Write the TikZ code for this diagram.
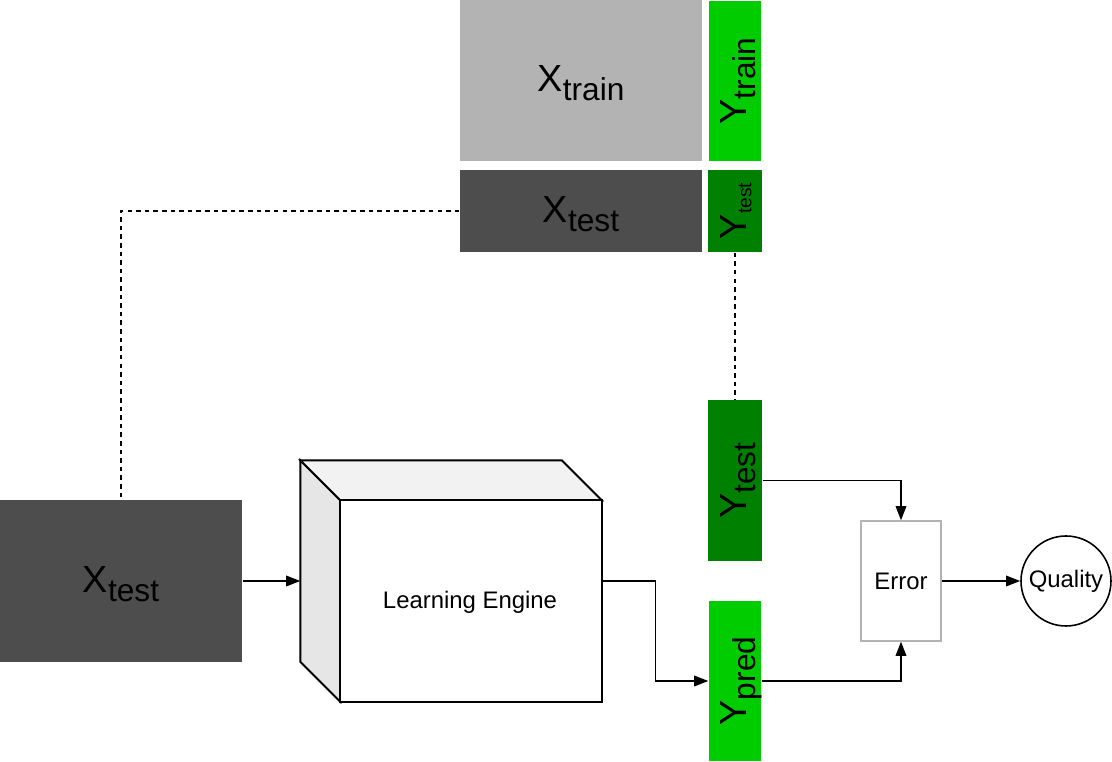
\documentclass[tikz,border=0pt]{standalone}
\usepackage{fontspec}
\setmainfont{Liberation Sans}
\usetikzlibrary{arrows.meta,calc}

\definecolor{trainGray}{HTML}{B3B3B3}
\definecolor{testGray}{HTML}{4D4D4D}
\definecolor{trainGreen}{HTML}{00CC00}
\definecolor{testGreen}{HTML}{008000}
\definecolor{sideGray}{HTML}{E6E6E6}
\definecolor{topGray}{HTML}{F2F2F2}
\definecolor{errGray}{HTML}{B3B3B3}

\newcommand{\sublbl}[4]{\raisebox{0pt}[16pt][3pt]{#1\raisebox{-#4}{\fontsize{#3}{#3}\selectfont #2}}}

\begin{document}
\begin{tikzpicture}[thick,
                    block/.style={rectangle,inner sep=0pt,font=\fontsize{21.5}{24}\selectfont},
                    wide block/.style={block,minimum width=4.84cm},
                    tall block/.style={block,minimum width=1.06cm,minimum height=3.2cm},
                    cubeline/.style={line width=1.1pt,line join=miter},
                    dashline/.style={dash pattern=on 2.6pt off 2.3pt,line width=0.85pt},
                    flow/.style={-{Triangle[length=8pt,width=6pt]},line width=0.9pt},
                    small text/.style={font=\fontsize{13.6}{16}\selectfont}]

  \useasboundingbox (0,0) rectangle (22.24,15.24);

  \node[wide block,fill=trainGray,minimum height=3.22cm] (xtrain) at (11.62,13.63) {\sublbl{X}{train}{18}{5pt}};
  \node[tall block,fill=trainGreen,minimum width=1.04cm] (ytrain) at (14.70,13.62) {\rotatebox{90}{\sublbl{Y}{train}{18}{5pt}}};

  \node[wide block,fill=testGray,minimum height=1.64cm] (xtestA) at (11.62,11.02) {\sublbl{X}{test}{18}{5pt}};
  \node[block,fill=testGreen,minimum width=1.08cm,minimum height=1.64cm] (ytestA) at (14.70,11.02) {\rotatebox{90}{\sublbl{Y}{test}{11}{2.8pt}}};

  \node[tall block,fill=testGreen,minimum width=1.08cm,minimum height=3.22cm] (ytestB) at (14.70,5.63) {\rotatebox{90}{\sublbl{Y}{test}{18}{5pt}}};
  \node[tall block,fill=trainGreen,minimum width=1.04cm] (ypred) at (14.70,1.62) {\rotatebox{90}{\sublbl{Y}{pred}{18}{5pt}}};

  \node[wide block,fill=testGray,minimum height=3.24cm] (xtestB) at (2.42,3.62) {\sublbl{X}{test}{18}{5pt}};

  \node[minimum width=6cm,minimum height=4.8cm,inner sep=0pt] (engine) at (9.02,3.62) {};
  \draw[cubeline,fill=sideGray] (engine.north west) -- ++(0.8,-0.8) -- ($(engine.south west)+(0.8,0)$) -- ++(-0.8,0.8) -- cycle;
  \draw[cubeline,fill=topGray] (engine.north west) -- ($(engine.north east)+(-0.8,0)$) -- ++(0.8,-0.8) -- ($(engine.north west)+(0.8,-0.8)$) -- cycle;
  \draw[cubeline,fill=white] ($(engine.north west)+(0.8,-0.8)$) rectangle (engine.south east);
  \node[small text] (enginetext) at ($(engine.center)+(0.38,-0.42)$) {Learning Engine};

  \node[small text,draw=errGray,line width=0.8pt,minimum width=1.6cm,minimum height=2.4cm,inner sep=0pt] (error) at (18.02,3.62) {Error};
  \node[small text,circle,draw,line width=0.9pt,minimum size=1.8cm,inner sep=0pt] (quality) at (21.32,3.62) {Quality};

  \draw[dashline] (xtestA.west) -| (xtestB.north);
  \draw[dashline] (ytestA.south) -- (ytestB.north);

  \draw[flow] (xtestB.east) -- (engine.west);
  \draw[flow] (engine.east) -- ++(1.08,0) |- (ypred.west);
  \draw[flow] (ytestB.east) -| (error.north);
  \draw[flow] (ypred.east) -| (error.south);
  \draw[flow] (error.east) -- (quality.west);
\end{tikzpicture}
\end{document}
